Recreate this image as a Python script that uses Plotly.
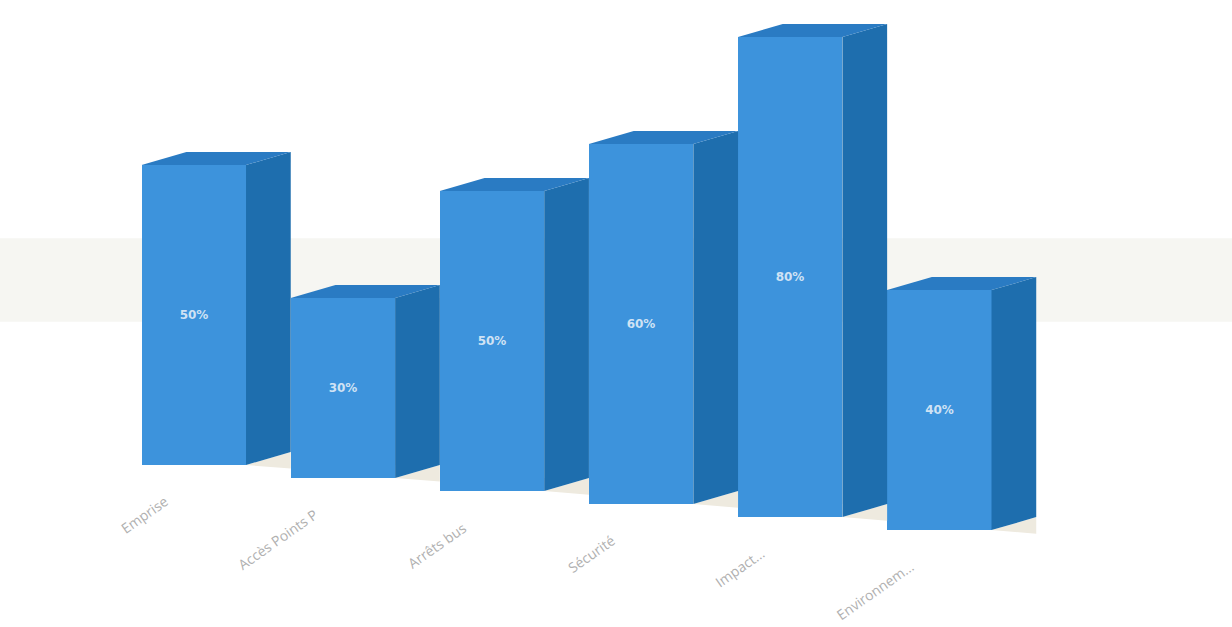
import plotly.graph_objects as go

# Survey results per theme
categories = ["Emprise", "Accès Points P", "Arrêts bus", "Sécurité", "Impact...", "Environnem..."]
values = [50, 30, 50, 60, 80, 40]
value_labels = ["50%", "30%", "50%", "60%", "80%", "40%"]

# Pseudo-3D geometry (axis units)
BAR_W = 0.70      # width of the front face
DEPTH_X = 0.30    # horizontal shift of the back edge
DEPTH_Y = 2.17    # vertical shift of the back edge
TILT = 2.17       # floor drop from one bar to the next

FRONT = "#3d93dc"
SIDE = "#1e6eae"
TOP = "#2a7bc3"
SHADOW = "#eeeadf"

xs = list(range(len(categories)))
bases = [-TILT * i for i in xs]

fig = go.Figure()

# background haze band
fig.add_shape(type="rect", xref="paper", yref="paper", x0=0, x1=1, y0=0.487, y1=0.62,
              fillcolor="#f6f6f2", line_width=0, layer="below")

for i, v, b in zip(xs, values, bases):
    xl, xr = i - BAR_W / 2, i + BAR_W / 2
    top = b + v
    # floor shadow behind the side face
    fig.add_trace(go.Scatter(
        x=[xr, xr + DEPTH_X, xr + DEPTH_X],
        y=[b, b + DEPTH_Y, b - 0.6],
        fill="toself", fillcolor=SHADOW, mode="none", hoverinfo="skip", showlegend=False))
    # right side face
    fig.add_trace(go.Scatter(
        x=[xr, xr + DEPTH_X, xr + DEPTH_X, xr],
        y=[b, b + DEPTH_Y, top + DEPTH_Y, top],
        fill="toself", fillcolor=SIDE, mode="none", hoverinfo="skip", showlegend=False))
    # top face
    fig.add_trace(go.Scatter(
        x=[xl, xl + DEPTH_X, xr + DEPTH_X, xr],
        y=[top, top + DEPTH_Y, top + DEPTH_Y, top],
        fill="toself", fillcolor=TOP, mode="none", hoverinfo="skip", showlegend=False))

# front faces with value labels
fig.add_trace(go.Bar(
    x=xs, y=values, base=bases, width=BAR_W,
    marker=dict(color=FRONT, line_width=0),
    text=value_labels, textposition="inside", insidetextanchor="middle",
    textangle=0, constraintext="none",
    textfont=dict(family="DejaVu Sans", size=12, color="#cfe2f4", weight="bold"),
    hoverinfo="skip", showlegend=False))

# slanted category labels under each bar
for i, name, b in zip(xs, categories, bases):
    fig.add_annotation(x=i - 0.13, y=b, text=name, showarrow=False, textangle=-35,
                       xanchor="right", yanchor="top", yshift=-24,
                       font=dict(family="Open Sans", size=14, color="#b0b0b0"))

fig.update_layout(
    width=1232, height=627,
    margin=dict(l=0, r=0, t=0, b=0),
    paper_bgcolor="white", plot_bgcolor="rgba(0,0,0,0)",
    xaxis=dict(range=[-1.30, 6.963], visible=False, fixedrange=True),
    yaxis=dict(range=[-27, 77.5], visible=False, fixedrange=True),
    bargap=0,
)

fig.write_html("out.html")
